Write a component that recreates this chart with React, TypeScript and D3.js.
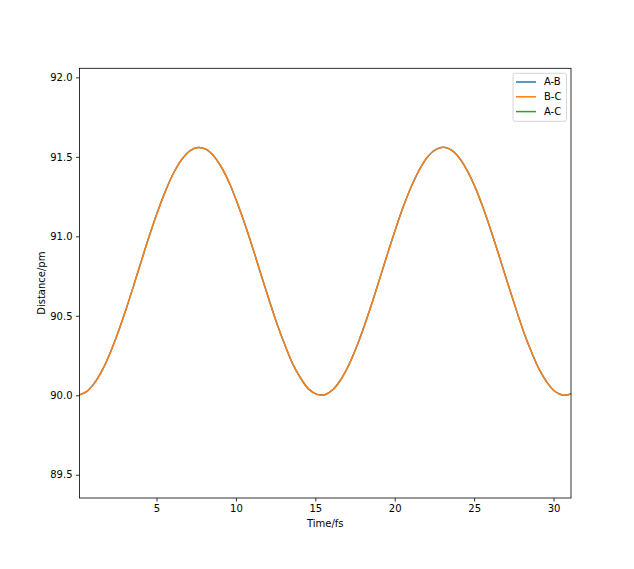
import { useEffect, useRef } from 'react';
import * as d3 from 'd3';

// time steps (fs), every 0.5 fs
const times = [0.1, 0.6, 1.1, 1.6, 2.1, 2.6, 3.1, 3.6, 4.1, 4.6, 5.1, 5.6, 6.1, 6.6, 7.1, 7.6, 8.1, 8.6,
  9.1, 9.6, 10.1, 10.6, 11.1, 11.6, 12.1, 12.6, 13.1, 13.6, 14.1, 14.6, 15.1, 15.6, 16.1, 16.6, 17.1, 17.6,
  18.1, 18.6, 19.1, 19.6, 20.1, 20.6, 21.1, 21.6, 22.1, 22.6, 23.1, 23.6, 24.1, 24.6, 25.1, 25.6, 26.1, 26.6,
  27.1, 27.6, 28.1, 28.6, 29.1, 29.6, 30.1, 30.6, 31.1];

// bond distances (pm)
const abValues = [90.001, 90.023, 90.078, 90.161, 90.271, 90.401, 90.547, 90.703, 90.863, 91.019,
  91.164, 91.294, 91.403, 91.485, 91.538, 91.559, 91.549, 91.506, 91.433, 91.332, 91.206, 91.067,
  90.914, 90.754, 90.597, 90.446, 90.313, 90.193, 90.104, 90.037, 90.006, 90.004, 90.035, 90.098,
  90.189, 90.305, 90.441, 90.590, 90.748, 90.907, 91.061, 91.203, 91.326, 91.428, 91.504, 91.547,
  91.560, 91.540, 91.488, 91.407, 91.300, 91.170, 91.024, 90.869, 90.710, 90.554, 90.405, 90.275,
  90.163, 90.080, 90.024, 90.001, 90.009];

// B-C overlaps A-B exactly
const bcValues = [90.001, 90.023, 90.078, 90.161, 90.271, 90.401, 90.547, 90.703, 90.863, 91.019,
  91.164, 91.294, 91.403, 91.485, 91.538, 91.559, 91.549, 91.506, 91.433, 91.332, 91.206, 91.067,
  90.914, 90.754, 90.597, 90.446, 90.313, 90.193, 90.104, 90.037, 90.006, 90.004, 90.035, 90.098,
  90.189, 90.305, 90.441, 90.590, 90.748, 90.907, 91.061, 91.203, 91.326, 91.428, 91.504, 91.547,
  91.560, 91.540, 91.488, 91.407, 91.300, 91.170, 91.024, 90.869, 90.710, 90.554, 90.405, 90.275,
  90.163, 90.080, 90.024, 90.001, 90.009];

// A-C has no visible trace in the plot
const acValues: number[] = [];

const seriesNames = ['A-B', 'B-C', 'A-C'];
const seriesColors = ['#1f77b4', '#ff7f0e', '#2ca02c'];

const xTicks = [5, 10, 15, 20, 25, 30];
const yTicks = [89.5, 90.0, 90.5, 91.0, 91.5, 92.0];

const W = 634;
const H = 569;

export default function App() {
  const svgRef = useRef<SVGSVGElement>(null);

  useEffect(() => {
    if (!svgRef.current) return;
    const svg = d3.select(svgRef.current);
    svg.selectAll('*').remove();

    const margin = { left: 79.5, right: W - 571, top: 68.3, bottom: H - 498 };
    const innerW = W - margin.left - margin.right;
    const innerH = H - margin.top - margin.bottom;

    const x = d3.scaleLinear().domain([0.15, 31.1]).range([0, innerW]);
    const y = d3.scaleLinear().domain([89.354, 92.057]).range([innerH, 0]);

    const font = "'DejaVu Sans', sans-serif";

    svg.append('rect').attr('width', W).attr('height', H).attr('fill', '#fff');

    const g = svg.append('g').attr('transform', `translate(${margin.left},${margin.top})`);

    svg.append('defs').append('clipPath').attr('id', 'plot-clip')
      .append('rect').attr('width', innerW).attr('height', innerH);

    const line = d3.line<number>()
      .x((_, i) => x(times[i]))
      .y(d => y(d))
      .curve(d3.curveCatmullRom.alpha(0.5));

    const plot = g.append('g').attr('clip-path', 'url(#plot-clip)');
    [abValues, bcValues, acValues].forEach((vals, i) => {
      if (!vals.length) return;
      plot.append('path')
        .datum(vals)
        .attr('fill', 'none')
        .attr('stroke', seriesColors[i])
        .attr('stroke-width', 1.5)
        .attr('stroke-linejoin', 'round')
        .attr('stroke-linecap', 'square')
        .attr('d', line);
    });

    // axes
    const xAxis = g.append('g')
      .attr('transform', `translate(0,${innerH})`)
      .call(d3.axisBottom(x).tickValues(xTicks).tickSize(3.5).tickPadding(3.5).tickFormat(d3.format('d')));
    const yAxis = g.append('g')
      .call(d3.axisLeft(y).tickValues(yTicks).tickSize(3.5).tickPadding(3.5).tickFormat(d3.format('.1f')));

    [xAxis, yAxis].forEach(ax => {
      ax.select('.domain').remove();
      ax.selectAll('line').attr('stroke', '#000').attr('stroke-width', 0.8);
      ax.selectAll('text').attr('font-family', font).attr('font-size', 10).attr('fill', '#000');
    });

    // frame
    g.append('rect')
      .attr('width', innerW).attr('height', innerH)
      .attr('fill', 'none').attr('stroke', '#000').attr('stroke-width', 0.8);

    // labels
    g.append('text')
      .attr('x', innerW / 2).attr('y', innerH + 29)
      .attr('text-anchor', 'middle')
      .attr('font-family', font).attr('font-size', 10)
      .text('Time/fs');

    g.append('text')
      .attr('transform', `translate(${-35},${innerH / 2}) rotate(-90)`)
      .attr('text-anchor', 'middle')
      .attr('font-family', font).attr('font-size', 10)
      .text('Distance/pm');

    // legend
    const legend = g.append('g').attr('transform', `translate(${innerW - 58},${5})`);
    legend.append('rect')
      .attr('width', 53.5).attr('height', 48)
      .attr('rx', 2).attr('ry', 2)
      .attr('fill', '#fff').attr('fill-opacity', 0.8)
      .attr('stroke', '#ccc').attr('stroke-width', 0.8);
    seriesNames.forEach((name, i) => {
      const ly = 8.7 + i * 14.8;
      legend.append('line')
        .attr('x1', 3).attr('x2', 23).attr('y1', ly).attr('y2', ly)
        .attr('stroke', seriesColors[i]).attr('stroke-width', 1.5);
      legend.append('text')
        .attr('x', 31).attr('y', ly).attr('dy', '0.35em')
        .attr('font-family', font).attr('font-size', 10)
        .text(name);
    });
  }, []);

  return (
    <div style={{ position: 'absolute', left: 0, top: 0 }}>
      <svg ref={svgRef} width={W} height={H} style={{ display: 'block' }} />
    </div>
  );
}
